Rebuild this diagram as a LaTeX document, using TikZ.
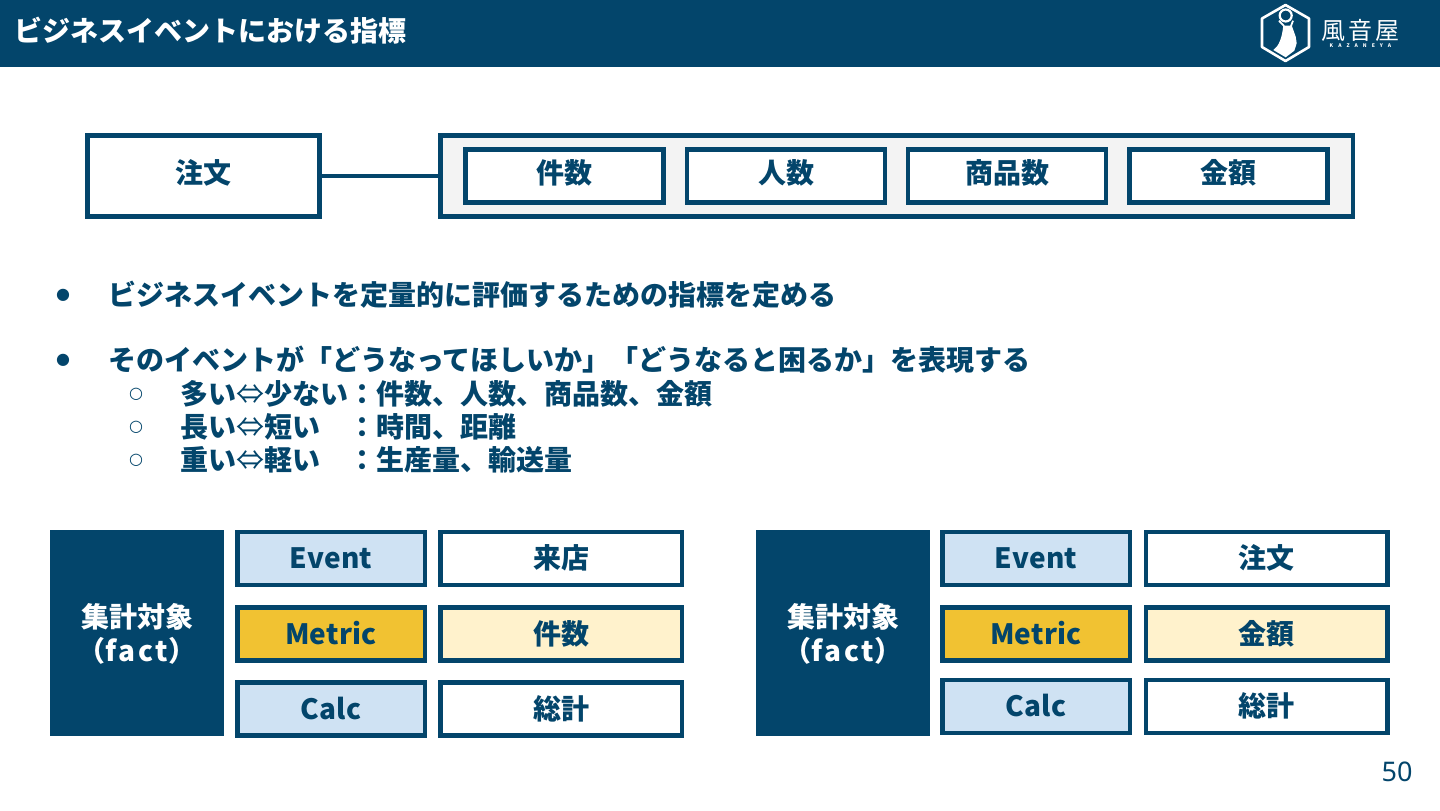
\documentclass[tikz,border=0pt]{standalone}
\usepackage{fontspec}
\setmainfont{Noto Sans CJK JP}
\newfontfamily\symfont{DejaVu Sans}
\newfontfamily\numfont{Noto Sans}
\newfontfamily\latinfont{Noto Sans CJK JP}[LetterSpace=1]
\newfontfamily\factfont{Noto Sans CJK JP}[LetterSpace=9]
\newcommand{\arrowsym}{{\mdseries ⇔}}
\newcommand{\latword}[1]{{\latinfont #1}}
\newcommand{\factword}{{\factfont fact}}
\definecolor{navy}{HTML}{03456B}
\definecolor{paleblue}{HTML}{CFE2F3}
\definecolor{gold}{HTML}{F1C232}
\definecolor{cream}{HTML}{FFF2CC}
\definecolor{panel}{HTML}{F3F3F3}
\tikzset{
  x=0.5pt,y=-0.5pt,
  basetext/.style={font=\fontsize{14}{17}\selectfont\bfseries,text=navy,inner sep=0pt,outer sep=0pt},
  boxed/.style={basetext,draw=navy,line width=2.25pt,fill=white,text height=8pt,text depth=0.9pt},
  topbox/.style={boxed,minimum width=99pt,minimum height=26.5pt},
  rowa/.style={boxed,minimum width=93.75pt,minimum height=26.5pt,text height=10.6pt,text depth=0.4pt},
  rowb/.style={rowa,minimum width=120.75pt},
  dark/.style={basetext,text=white,fill=navy,minimum width=87pt,minimum height=103pt,align=center},
  textline/.style={basetext,anchor=base west},
  bulletmark/.style={basetext,anchor=center,font=\fontsize{8}{8}\selectfont\symfont},
}
\begin{document}
\begin{tikzpicture}
\useasboundingbox (0,0) rectangle (1440,810);
\fill[white] (0,0) rectangle (1440,810);
\fill[navy] (0,0) rectangle (1440,67);
\node[textline,text=white] (title) at (14,41) {ビジネスイベントにおける指標};
% logo
\draw[white,line width=1.3pt,line join=round] (1285.5,5) -- (1309,18.5) -- (1309,47) -- (1285.5,61) -- (1262,47) -- (1262,18.5) -- cycle;
\draw[white,line width=1.1pt] (1285.7,15.5) circle[radius=6];
\draw[white,line width=0.9pt] (1279,20.7) -- (1284,26) (1293,20.7) -- (1291,26);
\fill[white] (1283.3,25.5) -- (1291.7,25.5) -- (1295.7,36.7) -- (1296.7,43.3) -- (1294.3,50.7) -- (1285.7,57.3) -- (1273.3,50)
  .. controls (1279,46) and (1282,38) .. (1283.3,25.5) -- cycle;
\node[basetext,text=white,font=\fontsize{12}{12}\selectfont] (brand) at (1360,30) {風\hspace{1.5pt}音\hspace{1.5pt}屋};
\node[basetext,text=white,font=\fontsize{2.5}{3}\selectfont\bfseries] (brandlatin) at (1360.5,46) {K\hspace{2.5pt}A\hspace{2.5pt}Z\hspace{2.5pt}A\hspace{2.5pt}N\hspace{2.5pt}E\hspace{2.5pt}Y\hspace{2.5pt}A};
% top row
\node[boxed,minimum width=116pt,minimum height=40.5pt] (order) at (203.5,176) {注文};
\node[boxed,fill=panel,minimum width=456.25pt,minimum height=40.5pt] (group) at (896.5,176) {};
\draw[navy,line width=2.25pt] (order.east) -- (group.west);
\node[topbox] (t1) at (564.5,176) {件数};
\node[topbox] (t2) at (786,176) {人数};
\node[topbox] (t3) at (1007,176) {商品数};
\node[topbox] (t4) at (1228.5,176) {金額};
% bullets
\node[bulletmark] (b1) at (63,295) {●};
\node[textline] (l1) at (108,305) {ビジネスイベントを定量的に評価するための指標を定める};
\node[bulletmark] (b2) at (63,360) {●};
\node[textline] (l2) at (108,370) {そのイベントが「どうなってほしいか」「どうなると困るか」を表現する};
\node[bulletmark] (b3) at (136,394) {○};
\node[textline] (l3) at (180,404) {多い\arrowsym 少ない：件数、人数、商品数、金額};
\node[bulletmark] (b4) at (136,427) {○};
\node[textline] (l4) at (180,437) {長い\arrowsym 短い　：時間、距離};
\node[bulletmark] (b5) at (136,460) {○};
\node[textline] (l5) at (180,470) {重い\arrowsym 軽い　：生産量、輸送量};
% left table
\node[dark] (la) at (137,633) {\rule{0pt}{13.3pt}集計対象\\（\factword）};
\node[rowa,fill=paleblue] (l1a) at (331,558.5) {\latword{Event}};
\node[rowb] (l1b) at (561,558.5) {来店};
\node[rowa,fill=gold] (l2a) at (331,634) {\latword{Metric}};
\node[rowb,fill=cream] (l2b) at (561,634) {件数};
\node[rowa,fill=paleblue] (l3a) at (331,709) {\latword{Calc}};
\node[rowb] (l3b) at (561,709) {総計};
% right table
\node[dark] (ra) at (843,633) {\rule{0pt}{13.3pt}集計対象\\（\factword）};
\node[rowa,fill=paleblue] (r1a) at (1036,558.5) {\latword{Event}};
\node[rowb] (r1b) at (1266.5,558.5) {注文};
\node[rowa,fill=gold] (r2a) at (1036,634) {\latword{Metric}};
\node[rowb,fill=cream] (r2b) at (1266.5,634) {金額};
\node[rowa,fill=paleblue] (r3a) at (1036,706.5) {\latword{Calc}};
\node[rowb] (r3b) at (1266.5,706.5) {総計};
\node[basetext,font=\fontsize{13.5}{14}\selectfont\numfont] (page) at (1397,772) {50};
\end{tikzpicture}
\end{document}
